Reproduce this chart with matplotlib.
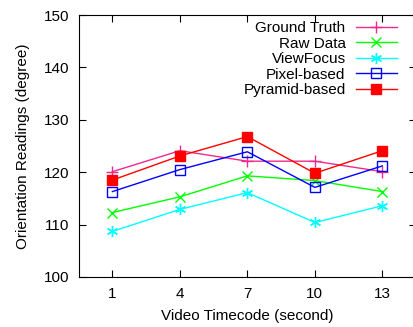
import matplotlib
matplotlib.use("Agg")
import matplotlib.pyplot as plt

plt.rcParams['font.family'] = ['Liberation Sans', 'DejaVu Sans']

timecode = [1, 4, 7, 10, 13]
ground_truth = [120.1, 124.1, 122.1, 122.1, 120.1]
raw_data = [112.3, 115.3, 119.3, 118.4, 116.3]
view_focus = [108.7, 112.9, 116.1, 110.4, 113.6]
pixel_based = [116.3, 120.5, 123.9, 117.1, 121.2]
pyramid_based = [118.5, 123.1, 126.8, 119.8, 124.1]

fig = plt.figure(figsize=(4.14, 3.27), dpi=100)
ax = fig.add_axes([0.190, 0.153, 0.815, 0.801])

ax.plot(timecode, ground_truth, '-', color='#ee2a8c', marker='+', ms=8, mew=1, lw=1, label='Ground Truth')
ax.plot(timecode, raw_data, '-', color='#00ff00', marker='x', ms=7, mew=1, lw=1, label='Raw Data')
ax.plot(timecode, view_focus, '-', color='#00ffff', marker=(6, 2, 0), ms=8, mew=1, lw=1, label='ViewFocus')
ax.plot(timecode, pixel_based, '-', color='#0000ff', marker='s', ms=7, mew=1, mfc='none', lw=1, label='Pixel-based')
ax.plot(timecode, pyramid_based, '-', color='#ff0000', marker='s', ms=7, mew=1, lw=1, label='Pyramid-based')

ax.set_xlim(-0.5, 14.5)
ax.set_ylim(100, 150)
ax.set_xticks(timecode)
ax.set_yticks([100, 110, 120, 130, 140, 150])
ax.tick_params(direction='in', top=True, right=True, length=5, labelsize=11, pad=7)
ax.set_xlabel('Video Timecode (second)', fontsize=11, labelpad=6)
ax.set_ylabel('Orientation Readings (degree)', fontsize=11, labelpad=10)

ax.legend(loc='upper right', frameon=False, markerfirst=False, fontsize=11,
          handlelength=2.7, handletextpad=0.65, labelspacing=0.1, borderaxespad=0,
          bbox_to_anchor=(0.961, 1.0))

fig.savefig('out.png', dpi=100)
